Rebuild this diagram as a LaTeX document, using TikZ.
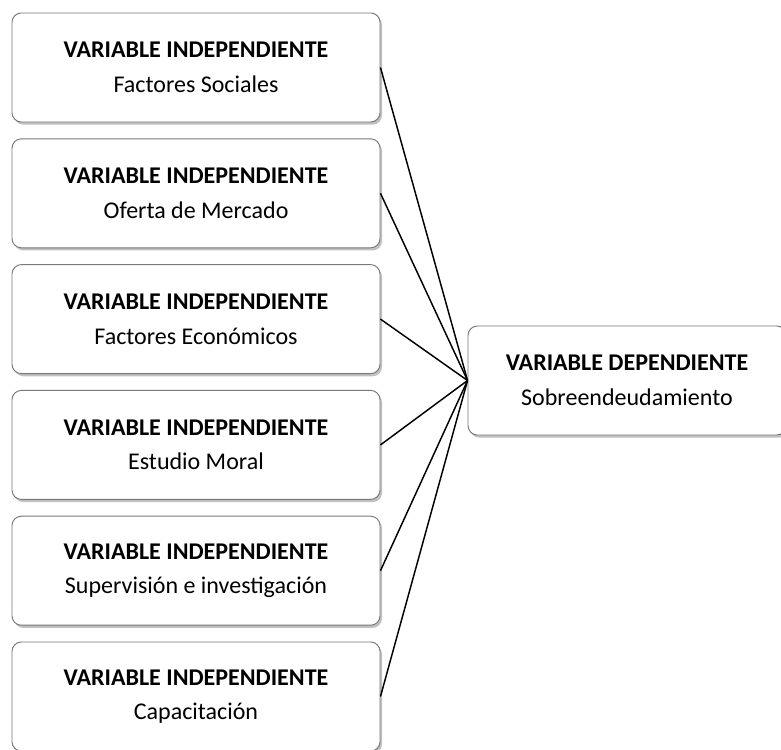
\documentclass[tikz,border=0pt]{standalone}
\usepackage{fontspec}
\setmainfont{Carlito}
\usepackage{tikz}
\usetikzlibrary{shadows}
\definecolor{boxborder}{RGB}{120,120,120}
\definecolor{boxshadow}{RGB}{150,150,150}

\begin{document}
\begin{tikzpicture}[x=0.75pt,y=-0.75pt,
    varbox/.style={draw=boxborder, line width=0.7pt, fill=white, rounded corners=7pt,
        minimum height=81.75pt, align=center,
        font=\fontsize{18}{26}\selectfont,
        drop shadow={shadow xshift=1.5pt, shadow yshift=-2pt, fill=boxshadow, opacity=0.6}},
    indep/.style={varbox, minimum width=276pt},
    dep/.style={varbox, minimum width=238.5pt},
    link/.style={line width=1.1pt}]
            \useasboundingbox (0,0) rectangle (781,749);

            % Independent variables
            \node[indep] (social) at (196,67.5) {\textbf{VARIABLE INDEPENDIENTE}\\Factores Sociales};
            \node[indep] (oferta) at (196,193.3) {\textbf{VARIABLE INDEPENDIENTE}\\Oferta de Mercado};
            \node[indep] (econ) at (196,319.1) {\textbf{VARIABLE INDEPENDIENTE}\\Factores Económicos};
            \node[indep] (moral) at (196,444.9) {\textbf{VARIABLE INDEPENDIENTE}\\Estudio Moral};
            \node[indep] (superv) at (196,570.7) {\textbf{VARIABLE INDEPENDIENTE}\\Supervisión e investigación};
            \node[indep] (capac) at (196,696.5) {\textbf{VARIABLE INDEPENDIENTE}\\Capacitación};

            % Dependent variable
            \node[dep] (sobre) at (627,380.5) {\textbf{VARIABLE DEPENDIENTE}\\Sobreendeudamiento};

            % Lines
            \draw[link] (social.east) -- (sobre.west);
            \draw[link] (oferta.east) -- (sobre.west);
            \draw[link] (econ.east) -- (sobre.west);
            \draw[link] (moral.east) -- (sobre.west);
            \draw[link] (superv.east) -- (sobre.west);
            \draw[link] (capac.east) -- (sobre.west);
\end{tikzpicture}
\end{document}
